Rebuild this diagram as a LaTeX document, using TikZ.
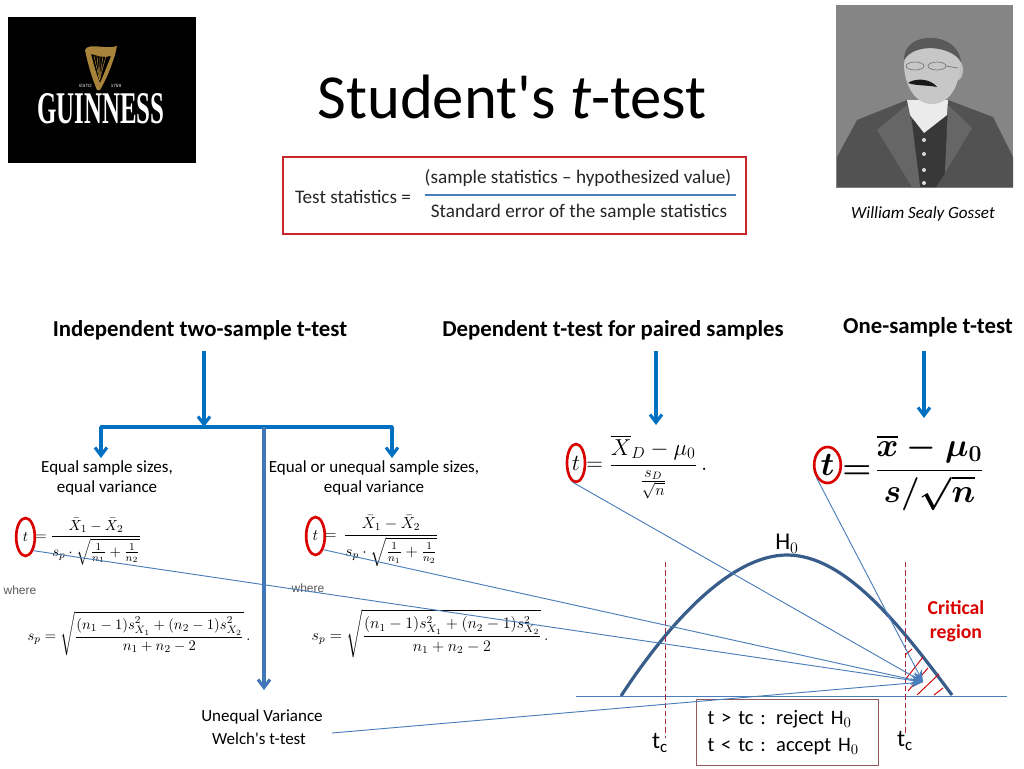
\documentclass[tikz,border=0pt]{standalone}
\usepackage{amsmath}
\usepackage{fontspec}
\setmainfont{Carlito}
\newfontfamily\helv{Liberation Sans}
\newfontfamily\logofont{Liberation Serif}
\usetikzlibrary{arrows.meta,shapes.geometric}
\definecolor{boxred}{HTML}{C9252B}
\definecolor{arrowblue}{HTML}{0070C0}
\definecolor{stemblue}{HTML}{3F78B8}
\definecolor{thinblue}{HTML}{4A7EBB}
\definecolor{curveblue}{HTML}{385D8A}
\definecolor{dashred}{HTML}{A8283C}
\definecolor{harpgold}{HTML}{A8843A}
\tikzset{%
	heading/.style  = {font=\fontsize{17.1}{20}\selectfont\bfseries, inner sep=0pt},
	smalltext/.style= {font=\fontsize{12.75}{15}\selectfont, inner sep=0pt, align=center},
	stattext/.style = {font=\fontsize{14.4}{17}\selectfont, text=black!85, inner sep=0pt},
	wheretext/.style= {font=\fontsize{9}{10}\helv, text=black!65, inner sep=0pt},
	plottext/.style = {font=\fontsize{18}{20}\selectfont, inner sep=0pt},
	bigarrow/.style = {arrowblue, line width=2.3pt, -{Straight Barb[length=6pt,width=9pt]}},
	feedline/.style = {thinblue, line width=0.7pt, -{Stealth[length=9pt,width=7pt]}},
	tcircle/.style  = {draw=red!85!black, line width=2pt, ellipse, inner sep=0pt, minimum width=14pt, minimum height=28.5pt},
	hatchline/.style= {red!80!black, line width=0.7pt},
	critline/.style = {dashred, dash pattern=on 4pt off 2.2pt, line width=0.7pt},
}
\begin{document}
\begin{tikzpicture}[x=0.75pt,y=-0.75pt]
	\useasboundingbox (0,0) rectangle (1024,768);
	\fill[white] (0,0) rectangle (1024,768);

	% logo
	\fill[black] (8,17) rectangle (196,163);
	\fill[harpgold,even odd rule] (85,50) .. controls (88,42) and (106,50) .. (117,46) -- (115,55) .. controls (110,70) and (106,80) .. (100,90) -- (97,90) .. controls (92,78) and (88,65) .. (85,50)
		(91,54) .. controls (94,66) and (97,76) .. (100,83) .. controls (104,74) and (108,64) .. (111,56) .. controls (104,58) and (98,56) .. (91,54);
	\foreach \sx in {94,97,100,103,106}
		\draw[harpgold, line width=0.4pt] (\sx,56) -- (99.5,80);
	\node[text=white, font=\fontsize{3.4}{4}\helv, inner sep=0pt] (estd) at (85.5,85.5) {ESTD};
	\node[text=white, font=\fontsize{3.4}{4}\helv, inner sep=0pt] (year) at (116,85.5) {1759};
	\node[text=white, font=\fontsize{34}{36}\logofont\bfseries, inner sep=0pt, xscale=0.55] (logo) at (101,109) {GUINNESS};

	% photo
	\fill[black!48] (836,5) rectangle (1013,188);
	\fill[black!68] (837,187) -- (837,157) -- (857,120) -- (907,100) -- (948,100) -- (993,117) -- (1013,157) -- (1013,187) -- cycle;
	\fill[black!78] (912,120) -- (948,115) -- (945,173) -- (936,187) -- (920,187) -- cycle;
	\fill[black!60] (877,130) -- (907,105) -- (912,125) -- (920,187) -- (912,187) -- cycle;
	\fill[black!60] (948,105) -- (972,128) -- (945,173) -- cycle;
	\fill[black!8] (907,100) -- (948,100) -- (947,115) -- (924,133) -- (910,115) -- cycle;
	\fill[black!25] (958,70) ellipse (5 and 10);
	\fill[black!22] (904,64) .. controls (904,40) and (960,40) .. (960,64) .. controls (960,85) and (950,104) .. (932,104) .. controls (915,104) and (904,85) .. (904,64);
	\fill[black!65] (904,60) .. controls (903,30) and (958,30) .. (961,62) .. controls (952,46) and (915,42) .. (904,60);
	\fill[black!90] (908,83) .. controls (915,78) and (930,78) .. (937,87) .. controls (928,85) and (916,86) .. (908,83);
	\draw[black!55, line width=0.5pt] (915,66) ellipse (9 and 4) (937,66) ellipse (9 and 4) (946,66) -- (958,68);
	\foreach \by in {140,154,170,183}
		\fill[black!15] (924,\by) circle (2);
	\node[font=\fontsize{12.8}{15}\selectfont\itshape, inner sep=0pt] (gosset) at (923,213.5) {William Sealy Gosset};

	% title and statistic
	\node[font=\fontsize{47}{54}\selectfont, inner sep=0pt] (title) at (512,97) {Student\textquotesingle s \textit{t}-test};
	\draw[boxred, line width=1pt] (283,157) rectangle (746,234);
	\node[stattext] (teststat) at (353,197) {Test statistics =};
	\node[stattext] (numer) at (578,178) {(sample statistics -- hypothesized value)};
	\node[stattext] (denom) at (579,212) {Standard error of the sample statistics};
	\draw[thinblue, line width=1.3pt] (425,195) -- (736,195);

	% test names
	\node[heading] (indep) at (200,330) {Independent two-sample t-test};
	\node[heading] (dep) at (613,330) {Dependent t-test for paired samples};
	\node[heading] (one) at (928,327) {One-sample t-test};
	\node[smalltext] (equal) at (107,477.5) {Equal sample sizes,\\ equal variance};
	\node[smalltext] (unequal) at (374,477.5) {Equal or unequal sample sizes,\\ equal variance};
	\node[smalltext] (unvar) at (262,716.5) {Unequal Variance};
	\node[smalltext] (welch) at (259,739) {Welch\textquotesingle s t-test};

	% branches
	\coordinate (branchtop) at (204,351);
	\coordinate (branch) at (204,427);
	\coordinate (branchl) at (101,427);
	\coordinate (branchr) at (392,427);
	\coordinate (stem) at (264,427);
	\coordinate (stemend) at (264,690);
	\draw[bigarrow] (branchtop) -- (branch);
	\draw[arrowblue, line width=2.3pt, line cap=round] (branchl) -- (branchr);
	\draw[bigarrow] (branchl) -- (101,458);
	\draw[bigarrow] (branchr) -- (392,458);
	\draw[stemblue, line width=2.3pt, -{Straight Barb[length=6pt,width=9pt]}] (stem) -- (stemend);
	\draw[bigarrow] (656,351) -- (656,425);
	\draw[bigarrow] (924,351) -- (924,418);

	% formulas
	\node[tcircle] (tA) at (25.5,537) {\fontsize{10.8}{12}\selectfont$t$};
	\node[anchor=west, inner sep=0pt] (fracA) at (35,542) {\fontsize{11.4}{13}\selectfont$=\dfrac{\bar{X}_1-\bar{X}_2}{s_p\cdot\sqrt{\frac{1}{n_1}+\frac{1}{n_2}}}$};
	\node[wheretext] (whereA) at (20,590) {where};
	\node[inner sep=0pt] (poolA) at (139,634) {\fontsize{11.4}{13}\selectfont$s_p=\sqrt{\dfrac{(n_1-1)s_{X_1}^2+(n_2-1)s_{X_2}^2}{n_1+n_2-2}}\,.$};
	\node[tcircle] (tB) at (315.5,536) {\fontsize{11.6}{13}\selectfont$t$};
	\node[anchor=west, inner sep=0pt] (fracB) at (324,541) {\fontsize{11.6}{14}\selectfont$=\,\dfrac{\bar{X}_1-\bar{X}_2}{s_p\cdot\sqrt{\frac{1}{n_1}+\frac{1}{n_2}}}$};
	\node[wheretext] (whereB) at (308,588) {where};
	\node[inner sep=0pt] (poolB) at (430,634) {\fontsize{11.6}{14}\selectfont$s_p=\sqrt{\dfrac{(n_1-1)s_{X_1}^2+(n_2-1)s_{X_2}^2}{n_1+n_2-2}}\,.$};
	\node[tcircle, minimum width=13.5pt] (tC) at (576,463) {\fontsize{16}{18}\selectfont$t$};
	\node[anchor=west, inner sep=0pt] (fracC) at (586,467) {\fontsize{17}{19}\selectfont$=\dfrac{\overline{X}_D-\mu_0}{\frac{s_D}{\sqrt{n}}}\,.$};
	\node[tcircle, minimum height=27pt, minimum width=20pt] (tD) at (827.5,465) {\fontsize{23}{25}\selectfont$\boldsymbol{t}$};
	\node[anchor=west, inner sep=0pt] (fracD) at (842,473) {\fontsize{23}{26}\selectfont$\boldsymbol{=}\!\dfrac{\boldsymbol{\overline{x}-\mu_0}}{\boldsymbol{s/\sqrt{n}}}$};

	% distribution
	\coordinate (left) at (621,696);
	\coordinate (peak) at (787,555);
	\coordinate (right) at (952,695);
	\draw[curveblue, line width=2.4pt] (left) .. controls (672,618) and (733,555) .. (peak) .. controls (845,555) and (900,625) .. (right);
	\draw[thinblue, line width=0.6pt] (576,696) -- (1007,696);
	\draw[critline] (665,562) -- (665,738);
	\draw[critline] (905,562) -- (905,733);
	\draw[hatchline] (905,655) -- (912,649);
	\draw[hatchline] (905,680) -- (923,657);
	\draw[hatchline] (908,691) -- (928,668);
	\draw[hatchline] (917,695) -- (939,674);
	\draw[hatchline] (934,695) -- (943,688);
	\node[plottext] (hnull) at (787,544) {H$_0$};
	\node[plottext] (tcl) at (660,743) {t$_\mathrm{c}$};
	\node[plottext] (tcr) at (905,741) {t$_\mathrm{c}$};
	\node[font=\fontsize{14.8}{18}\selectfont\bfseries, text=red!85!black, inner sep=0pt, align=center] (crit) at (956,621) {Critical\\ region};
	\node[draw=boxred!50!black!70!white, line width=0.8pt, minimum width=136pt, minimum height=49pt, inner sep=0pt, font=\fontsize{15.4}{20.5}\selectfont, align=left, text width=125pt] (rule) at (787.5,732.5) {\hspace{2.5pt}\raisebox{-2.5pt}{t > tc : reject H$_0$}\\ \hspace{2.5pt}\raisebox{-2.5pt}{t < tc : accept H$_0$}};

	% feed lines
	\coordinate (target) at (923,682);
	\coordinate (welchend) at (332,733);
	\draw[feedline] (tA.-60) -- (target);
	\draw[feedline] (tB.-60) -- (target);
	\draw[feedline] (tC.-100) -- (target);
	\draw[feedline] (tD.-130) -- (target);
	\draw[feedline] (welchend) -- (target);
\end{tikzpicture}
\end{document}
